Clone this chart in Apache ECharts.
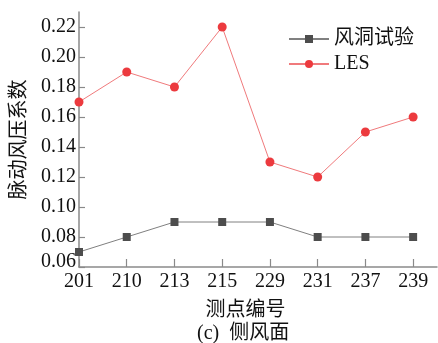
<!DOCTYPE html>
<html>
<head>
<meta charset="utf-8">
<script src="https://cdn.jsdelivr.net/npm/echarts@6/dist/echarts.min.js"></script>
<style>
  html, body { margin: 0; padding: 0; background: #fff; }
  #chart { width: 438px; height: 343px; }
</style>
</head>
<body>
<div id="chart"></div>
<script>
// Measuring point IDs along the side facade
const categories = ['201', '210', '213', '215', '229', '231', '237', '239'];
// Fluctuating wind pressure coefficients
const windTunnel = [0.07, 0.08, 0.09, 0.09, 0.09, 0.08, 0.08, 0.08];
const les = [0.17, 0.19, 0.18, 0.22, 0.13, 0.12, 0.15, 0.16];
const yTicks = [0.06, 0.08, 0.10, 0.12, 0.14, 0.16, 0.18, 0.20, 0.22];

const serif = '"Liberation Serif", "Times New Roman", "Noto Sans CJK SC", serif';
const axisGray = '#8a8a8a';
const idx = categories.map((_, i) => i);
const toPoints = arr => arr.map((v, i) => [i, v]);

const chart = echarts.init(document.getElementById('chart'), null, { renderer: 'canvas' });
chart.setOption({
  animation: false,
  backgroundColor: '#fff',
  textStyle: { fontFamily: serif },
  grid: { left: 79, top: 12, right: 1, bottom: 76, containLabel: false },
  legend: {
    orient: 'vertical',
    left: 283,
    top: 24,
    itemWidth: 40,
    itemHeight: 10,
    itemGap: 5,
    textStyle: { fontFamily: serif, fontSize: 20, color: '#111' },
    data: ['风洞试验', 'LES']
  },
  graphic: [{
    type: 'text',
    left: 197,
    top: 324,
    style: { text: '(c)  侧风面', font: '20px ' + serif, fill: '#111' }
  }],
  xAxis: {
    type: 'value',
    min: 0,
    max: 7.5,
    interval: 1,
    name: '测点编号',
    nameLocation: 'middle',
    nameGap: 34,
    nameTextStyle: { fontFamily: serif, fontSize: 20, color: '#111', padding: [0, 25, 0, 0] },
    splitLine: { show: false },
    axisLine: { lineStyle: { color: axisGray, width: 1.5 } },
    axisTick: { inside: true, length: 8, customValues: idx, lineStyle: { color: axisGray, width: 1.2 } },
    axisLabel: {
      customValues: idx,
      margin: 5,
      fontSize: 20,
      color: '#111',
      fontFamily: serif,
      formatter: v => categories[Math.round(v)] ?? ''
    }
  },
  yAxis: {
    type: 'value',
    min: 0.06,
    max: 0.23,
    interval: 0.02,
    name: '脉动风压系数',
    nameLocation: 'middle',
    nameGap: 40,
    nameRotate: 90,
    nameTextStyle: { fontFamily: serif, fontSize: 20, color: '#111' },
    splitLine: { show: false },
    axisLine: { show: true, lineStyle: { color: axisGray, width: 1.5 } },
    axisTick: { show: true, inside: true, length: 6, customValues: yTicks, lineStyle: { color: axisGray, width: 1.2 } },
    axisLabel: {
      customValues: yTicks,
      margin: 3,
      fontSize: 20,
      color: '#111',
      fontFamily: serif,
      formatter: v => Math.abs(v - 0.06) < 1e-9 ? '{low|0.06}' : v.toFixed(2),
      rich: { low: { fontSize: 20, fontFamily: serif, color: '#111', padding: [0, 0, 10, 0] } }
    }
  },
  series: [
    {
      name: '风洞试验',
      type: 'line',
      data: toPoints(windTunnel),
      symbol: 'rect',
      symbolSize: 8,
      itemStyle: { color: '#4d4d4d' },
      lineStyle: { color: '#808080', width: 1 }
    },
    {
      name: 'LES',
      type: 'line',
      data: toPoints(les),
      symbol: 'circle',
      symbolSize: 9,
      itemStyle: { color: '#ec3a3e' },
      lineStyle: { color: '#f07a7c', width: 1 }
    }
  ]
});
</script>
</body>
</html>
